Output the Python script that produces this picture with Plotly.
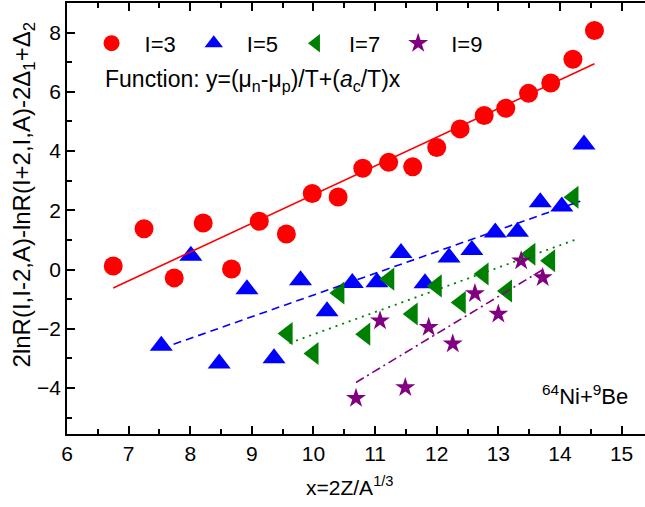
import plotly.graph_objects as go

# ---- data ----
x_I3 = [6.75, 7.25, 7.74, 8.21, 8.67, 9.12, 9.56, 9.98, 10.40, 10.80, 11.22, 11.61,
        12.00, 12.38, 12.77, 13.12, 13.49, 13.85, 14.21, 14.56]
y_I3 = [0.12, 1.38, -0.28, 1.57, 0.02, 1.63, 1.20, 2.57, 2.45, 3.42, 3.62, 3.47,
        4.12, 4.75, 5.20, 5.45, 5.95, 6.30, 7.10, 8.07]

x_I5 = [7.53, 8.01, 8.47, 8.92, 9.36, 9.79, 10.22, 10.63, 11.03, 11.42, 11.81, 12.20,
        12.57, 12.95, 13.31, 13.68, 14.03, 14.39]
y_I5 = [-2.57, 0.47, -3.17, -0.66, -2.99, -0.36, -1.41, -0.45, -0.43, 0.56, -0.46, 0.41,
        0.66, 1.25, 1.28, 2.27, 2.13, 4.22]

x_I7 = [9.58, 10.00, 10.42, 10.84, 11.23, 11.61, 12.00, 12.39, 12.76, 13.14, 13.52, 13.84, 14.22]
y_I7 = [-2.16, -2.83, -0.79, -2.18, -0.32, -1.50, -0.55, -1.11, -0.15, -0.72, 0.52, 0.30, 2.44]

x_I9 = [10.69, 11.08, 11.49, 11.87, 12.26, 12.62, 13.00, 13.37, 13.72]
y_I9 = [-4.34, -1.73, -3.98, -1.95, -2.50, -0.81, -1.50, 0.30, -0.27]

# linear-fit lines (end points)
fit_x_I3 = [6.75, 14.56]
fit_y_I3 = [-0.62, 6.95]
fit_x_I5 = [7.73, 14.33]
fit_y_I5 = [-2.52, 2.31]
fit_x_I7 = [9.61, 14.25]
fit_y_I7 = [-2.48, 1.01]
fit_x_I9 = [10.69, 13.74]
fit_y_I9 = [-3.81, 0.02]

x_ticks = [6, 7, 8, 9, 10, 11, 12, 13, 14, 15]
y_ticks = [-4, -2, 0, 2, 4, 6, 8]

FONT = "Arial, Liberation Sans, sans-serif"
RED, BLUE, GREEN, PURPLE = "#FF0000", "#0000FF", "#008000", "#800080"

fig = go.Figure()

fig.add_trace(go.Scatter(x=x_I3, y=y_I3, mode="markers", name="I=3",
                         marker=dict(symbol="circle", size=19, color=RED, line=dict(width=0))))
fig.add_trace(go.Scatter(x=x_I5, y=y_I5, mode="markers", name="I=5",
                         marker=dict(symbol="triangle-up", size=20, color=BLUE, line=dict(width=0))))
fig.add_trace(go.Scatter(x=x_I7, y=y_I7, mode="markers", name="I=7",
                         marker=dict(symbol="triangle-left", size=20, color=GREEN, line=dict(width=0))))
fig.add_trace(go.Scatter(x=x_I9, y=y_I9, mode="markers", name="I=9",
                         marker=dict(symbol="star", size=15, color=PURPLE, line=dict(width=0))))

fig.add_trace(go.Scatter(x=fit_x_I3, y=fit_y_I3, mode="lines", showlegend=False,
                         line=dict(color=RED, width=1.6, dash="solid")))
fig.add_trace(go.Scatter(x=fit_x_I5, y=fit_y_I5, mode="lines", showlegend=False,
                         line=dict(color=BLUE, width=1.6, dash="8px,5px")))
fig.add_trace(go.Scatter(x=fit_x_I7, y=fit_y_I7, mode="lines", showlegend=False,
                         line=dict(color=GREEN, width=1.8, dash="2px,5px")))
fig.add_trace(go.Scatter(x=fit_x_I9, y=fit_y_I9, mode="lines", showlegend=False,
                         line=dict(color=PURPLE, width=1.6, dash="9px,4px,2px,4px")))

fig.update_layout(
    width=645, height=507,
    margin=dict(l=67, r=0, t=3, b=73),
    paper_bgcolor="white", plot_bgcolor="white",
    font=dict(family=FONT, size=21, color="black"),
    showlegend=True,
    legend=dict(orientation="h", x=0.02, y=0.955, xanchor="left", yanchor="top",
                bgcolor="rgba(0,0,0,0)", font=dict(size=22), itemwidth=56,
                tracegroupgap=0, traceorder="normal"),
    xaxis=dict(range=[6, 15.38], tickvals=x_ticks, showline=True, linecolor="black",
               linewidth=1.6, mirror="ticks", ticks="inside", ticklen=8, tickwidth=1.6,
               tickcolor="black", showgrid=False, zeroline=False,
               tickfont=dict(size=21),
               minor=dict(dtick=0.5, ticks="inside", ticklen=5, tickwidth=1.6, tickcolor="black")),
    yaxis=dict(range=[-5.55, 9.0], tickvals=y_ticks, showline=True, linecolor="black",
               linewidth=1.6, mirror=False, ticks="inside", ticklen=8, tickwidth=1.6,
               tickcolor="black", showgrid=False, zeroline=False,
               tickfont=dict(size=21),
               minor=dict(dtick=1, ticks="inside", ticklen=5, tickwidth=1.6, tickcolor="black")),
)

fig.add_annotation(text="2lnR(I,I-2,A)-lnR(I+2,I,A)-2\u0394<sub>1</sub>+\u0394<sub>2</sub>",
                   xref="paper", yref="paper", x=-0.075, y=0.555, textangle=-90,
                   showarrow=False, xanchor="center", yanchor="middle", font=dict(size=24))
fig.add_annotation(text="x=2Z/A<sup>1/3</sup>", xref="paper", yref="paper",
                   x=0.49, y=-0.12, showarrow=False, xanchor="center", yanchor="middle",
                   font=dict(size=21))
fig.add_annotation(text="Function: y=(\u03bc<sub>n</sub>-\u03bc<sub>p</sub>)/T+(<i>a</i><sub>c</sub>/T)x",
                   xref="paper", yref="paper", x=0.062, y=0.821, showarrow=False,
                   xanchor="left", yanchor="middle", font=dict(size=23))
fig.add_annotation(text="<sup>64</sup>Ni+<sup>9</sup>Be", xref="paper", yref="paper",
                   x=0.974, y=0.09, showarrow=False, xanchor="right", yanchor="middle",
                   font=dict(size=22))

fig.write_html("out.html")
